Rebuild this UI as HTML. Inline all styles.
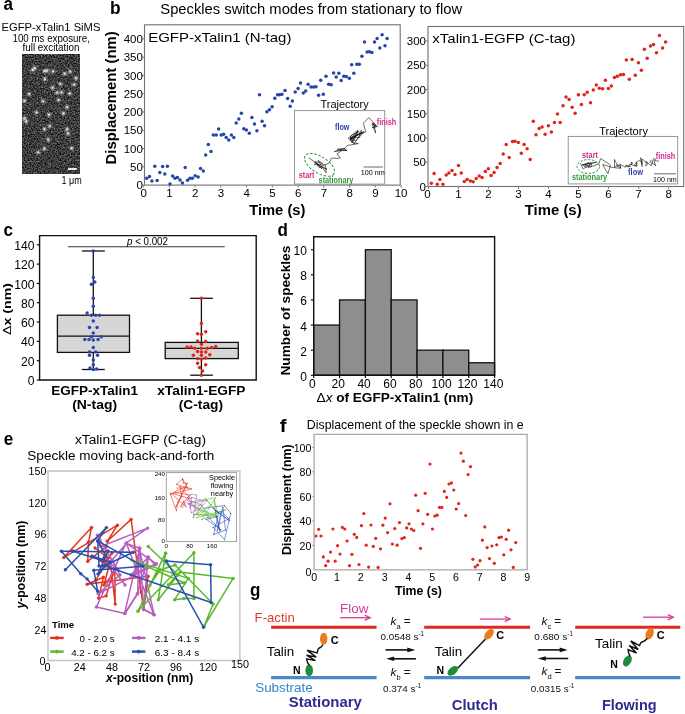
<!DOCTYPE html>
<html><head><meta charset="utf-8"><style>
html,body{margin:0;padding:0;background:#fff;}
svg{display:block;font-family:"Liberation Sans", sans-serif;will-change:transform;}
</style></head><body>
<svg width="685" height="714" viewBox="0 0 685 714" font-family='"Liberation Sans", sans-serif'>
<rect width="685" height="714" fill="#fff"/>
<text x="3.40" y="10.20" font-size="18.3" fill="#000" font-weight="700" textLength="9.5" lengthAdjust="spacingAndGlyphs">a</text>
<text x="51.00" y="30.80" font-size="11.2" fill="#000" text-anchor="middle" textLength="98.8" lengthAdjust="spacingAndGlyphs">EGFP-xTalin1 SiMS</text>
<text x="51.20" y="42.20" font-size="10.3" fill="#000" text-anchor="middle" textLength="77.4" lengthAdjust="spacingAndGlyphs">100 ms exposure,</text>
<text x="51.00" y="51.40" font-size="10.3" fill="#000" text-anchor="middle" textLength="57" lengthAdjust="spacingAndGlyphs">full excitation</text>
<defs><filter id="nz" x="0" y="0" width="1" height="1"><feTurbulence type="fractalNoise" baseFrequency="0.9" numOctaves="1" seed="3"/><feColorMatrix type="matrix" values="0 0 0 0 0  0 0 0 0 0  0 0 0 0 0  0 0 0 0 0"/></filter></defs>
<defs><filter id="nz2" x="0" y="0" width="100%" height="100%" filterUnits="objectBoundingBox" color-interpolation-filters="sRGB"><feTurbulence type="fractalNoise" baseFrequency="0.7" numOctaves="2" seed="7" result="t"/><feColorMatrix in="t" type="matrix" values="0.85 0 0 0 -0.19  0.85 0 0 0 -0.19  0.85 0 0 0 -0.19  0 0 0 0 1"/><feGaussianBlur stdDeviation="0.3"/></filter><filter id="bl" x="-50%" y="-50%" width="200%" height="200%"><feGaussianBlur stdDeviation="0.9"/></filter></defs>
<rect x="22.30" y="54.00" width="57.60" height="120.00" fill="#333" stroke="none" stroke-width="1"/>
<rect x="22.30" y="54.00" width="57.60" height="120.00" fill="#000" stroke="none" stroke-width="1" filter="url(#nz2)"/>
<g fill="#fff" filter="url(#bl)"><circle cx="34.9" cy="67.8" r="1.6"/><circle cx="32.7" cy="70.1" r="1.6"/><circle cx="44.4" cy="71.0" r="1.6"/><circle cx="47.1" cy="70.6" r="1.6"/><circle cx="53.0" cy="71.5" r="1.6"/><circle cx="44.9" cy="79.1" r="1.6"/><circle cx="60.3" cy="84.1" r="1.6"/><circle cx="52.6" cy="87.7" r="1.6"/><circle cx="74.3" cy="84.6" r="1.6"/><circle cx="76.1" cy="78.2" r="1.6"/><circle cx="70.2" cy="71.5" r="1.6"/><circle cx="64.8" cy="73.7" r="1.6"/><circle cx="57.1" cy="92.7" r="1.6"/><circle cx="61.6" cy="92.3" r="1.6"/><circle cx="69.8" cy="93.6" r="1.6"/><circle cx="58.5" cy="100.0" r="1.6"/><circle cx="43.1" cy="101.3" r="1.6"/><circle cx="24.5" cy="100.9" r="1.6"/><circle cx="67.1" cy="107.2" r="1.6"/><circle cx="29.0" cy="94.0" r="1.6"/><circle cx="36.7" cy="112.5" r="1.6"/><circle cx="49.0" cy="114.7" r="1.6"/><circle cx="63.4" cy="113.4" r="1.6"/><circle cx="26.3" cy="121.5" r="1.6"/><circle cx="49.9" cy="126.0" r="1.6"/><circle cx="44.4" cy="129.2" r="1.6"/><circle cx="67.1" cy="129.2" r="1.6"/><circle cx="68.0" cy="133.7" r="1.6"/><circle cx="48.1" cy="139.6" r="1.6"/><circle cx="44.4" cy="148.7" r="1.6"/><circle cx="38.1" cy="152.3" r="1.6"/><circle cx="71.6" cy="148.2" r="1.6"/><circle cx="24.5" cy="118.3" r="1.6"/></g>
<g fill="#fff" opacity="0.75"><circle cx="34.9" cy="67.8" r="0.9"/><circle cx="32.7" cy="70.1" r="0.9"/><circle cx="44.4" cy="71.0" r="0.9"/><circle cx="47.1" cy="70.6" r="0.9"/><circle cx="53.0" cy="71.5" r="0.9"/><circle cx="44.9" cy="79.1" r="0.9"/><circle cx="60.3" cy="84.1" r="0.9"/><circle cx="52.6" cy="87.7" r="0.9"/><circle cx="74.3" cy="84.6" r="0.9"/><circle cx="76.1" cy="78.2" r="0.9"/><circle cx="70.2" cy="71.5" r="0.9"/><circle cx="64.8" cy="73.7" r="0.9"/><circle cx="57.1" cy="92.7" r="0.9"/><circle cx="61.6" cy="92.3" r="0.9"/><circle cx="69.8" cy="93.6" r="0.9"/><circle cx="58.5" cy="100.0" r="0.9"/><circle cx="43.1" cy="101.3" r="0.9"/><circle cx="24.5" cy="100.9" r="0.9"/><circle cx="67.1" cy="107.2" r="0.9"/><circle cx="29.0" cy="94.0" r="0.9"/><circle cx="36.7" cy="112.5" r="0.9"/><circle cx="49.0" cy="114.7" r="0.9"/><circle cx="63.4" cy="113.4" r="0.9"/><circle cx="26.3" cy="121.5" r="0.9"/><circle cx="49.9" cy="126.0" r="0.9"/><circle cx="44.4" cy="129.2" r="0.9"/><circle cx="67.1" cy="129.2" r="0.9"/><circle cx="68.0" cy="133.7" r="0.9"/><circle cx="48.1" cy="139.6" r="0.9"/><circle cx="44.4" cy="148.7" r="0.9"/><circle cx="38.1" cy="152.3" r="0.9"/><circle cx="71.6" cy="148.2" r="0.9"/><circle cx="24.5" cy="118.3" r="0.9"/></g>
<rect x="68.00" y="168.10" width="8.80" height="1.80" fill="#fff" stroke="none" stroke-width="1"/>
<text x="61.50" y="184.10" font-size="10.5" fill="#000" textLength="20.2" lengthAdjust="spacingAndGlyphs">1 μm</text>
<text x="110.00" y="13.80" font-size="18.3" fill="#000" font-weight="700" textLength="10.6" lengthAdjust="spacingAndGlyphs">b</text>
<text x="160.30" y="13.80" font-size="13.8" fill="#000" textLength="301.8" lengthAdjust="spacingAndGlyphs">Speckles switch modes from stationary to flow</text>
<rect x="144.50" y="24.80" width="255.70" height="160.30" fill="none" stroke="#707070" stroke-width="1.1"/>
<line x1="142.00" y1="185.10" x2="144.50" y2="185.10" stroke="#808080" stroke-width="1"/>
<text x="142.90" y="189.20" font-size="11.5" fill="#000" text-anchor="end">0</text>
<line x1="142.00" y1="166.82" x2="144.50" y2="166.82" stroke="#808080" stroke-width="1"/>
<text x="142.90" y="170.92" font-size="11.5" fill="#000" text-anchor="end">50</text>
<line x1="142.00" y1="148.55" x2="144.50" y2="148.55" stroke="#808080" stroke-width="1"/>
<text x="142.90" y="152.65" font-size="11.5" fill="#000" text-anchor="end">100</text>
<line x1="142.00" y1="130.28" x2="144.50" y2="130.28" stroke="#808080" stroke-width="1"/>
<text x="142.90" y="134.38" font-size="11.5" fill="#000" text-anchor="end">150</text>
<line x1="142.00" y1="112.00" x2="144.50" y2="112.00" stroke="#808080" stroke-width="1"/>
<text x="142.90" y="116.10" font-size="11.5" fill="#000" text-anchor="end">200</text>
<line x1="142.00" y1="93.72" x2="144.50" y2="93.72" stroke="#808080" stroke-width="1"/>
<text x="142.90" y="97.82" font-size="11.5" fill="#000" text-anchor="end">250</text>
<line x1="142.00" y1="75.45" x2="144.50" y2="75.45" stroke="#808080" stroke-width="1"/>
<text x="142.90" y="79.55" font-size="11.5" fill="#000" text-anchor="end">300</text>
<line x1="142.00" y1="57.17" x2="144.50" y2="57.17" stroke="#808080" stroke-width="1"/>
<text x="142.90" y="61.27" font-size="11.5" fill="#000" text-anchor="end">350</text>
<line x1="142.00" y1="38.90" x2="144.50" y2="38.90" stroke="#808080" stroke-width="1"/>
<text x="142.90" y="43.00" font-size="11.5" fill="#000" text-anchor="end">400</text>
<line x1="143.60" y1="185.10" x2="143.60" y2="187.60" stroke="#808080" stroke-width="1"/>
<text x="143.60" y="197.00" font-size="11.5" fill="#000" text-anchor="middle">0</text>
<line x1="169.35" y1="185.10" x2="169.35" y2="187.60" stroke="#808080" stroke-width="1"/>
<text x="169.35" y="197.00" font-size="11.5" fill="#000" text-anchor="middle">1</text>
<line x1="195.10" y1="185.10" x2="195.10" y2="187.60" stroke="#808080" stroke-width="1"/>
<text x="195.10" y="197.00" font-size="11.5" fill="#000" text-anchor="middle">2</text>
<line x1="220.85" y1="185.10" x2="220.85" y2="187.60" stroke="#808080" stroke-width="1"/>
<text x="220.85" y="197.00" font-size="11.5" fill="#000" text-anchor="middle">3</text>
<line x1="246.60" y1="185.10" x2="246.60" y2="187.60" stroke="#808080" stroke-width="1"/>
<text x="246.60" y="197.00" font-size="11.5" fill="#000" text-anchor="middle">4</text>
<line x1="272.35" y1="185.10" x2="272.35" y2="187.60" stroke="#808080" stroke-width="1"/>
<text x="272.35" y="197.00" font-size="11.5" fill="#000" text-anchor="middle">5</text>
<line x1="298.10" y1="185.10" x2="298.10" y2="187.60" stroke="#808080" stroke-width="1"/>
<text x="298.10" y="197.00" font-size="11.5" fill="#000" text-anchor="middle">6</text>
<line x1="323.85" y1="185.10" x2="323.85" y2="187.60" stroke="#808080" stroke-width="1"/>
<text x="323.85" y="197.00" font-size="11.5" fill="#000" text-anchor="middle">7</text>
<line x1="349.60" y1="185.10" x2="349.60" y2="187.60" stroke="#808080" stroke-width="1"/>
<text x="349.60" y="197.00" font-size="11.5" fill="#000" text-anchor="middle">8</text>
<line x1="375.35" y1="185.10" x2="375.35" y2="187.60" stroke="#808080" stroke-width="1"/>
<text x="375.35" y="197.00" font-size="11.5" fill="#000" text-anchor="middle">9</text>
<line x1="401.10" y1="185.10" x2="401.10" y2="187.60" stroke="#808080" stroke-width="1"/>
<text x="401.10" y="197.00" font-size="11.5" fill="#000" text-anchor="middle">10</text>
<text x="115.60" y="97.90" font-size="14.7" fill="#000" font-weight="700" text-anchor="middle" textLength="133.2" lengthAdjust="spacingAndGlyphs" transform="rotate(-90 115.60 97.90)">Displacement (nm)</text>
<text x="277.30" y="214.90" font-size="14" fill="#000" font-weight="700" text-anchor="middle" textLength="56.3" lengthAdjust="spacingAndGlyphs">Time (s)</text>
<text x="148.20" y="41.90" font-size="13.4" fill="#000" textLength="143.2" lengthAdjust="spacingAndGlyphs">EGFP-xTalin1 (N-tag)</text>
<rect x="294.50" y="110.60" width="90.20" height="73.50" fill="#fff" stroke="#8a8a8a" stroke-width="0.9"/>
<text x="344.60" y="107.50" font-size="10.9" fill="#000" text-anchor="middle" textLength="48.2" lengthAdjust="spacingAndGlyphs">Trajectory</text>
<g fill="#2446a8"><circle cx="146.7" cy="178.3" r="1.75"/><circle cx="149.5" cy="176.4" r="1.75"/><circle cx="151.9" cy="181.0" r="1.75"/><circle cx="154.8" cy="166.2" r="1.75"/><circle cx="157.1" cy="180.5" r="1.75"/><circle cx="159.8" cy="172.4" r="1.75"/><circle cx="162.6" cy="166.4" r="1.75"/><circle cx="164.8" cy="174.0" r="1.75"/><circle cx="167.4" cy="166.2" r="1.75"/><circle cx="170.0" cy="184.0" r="1.75"/><circle cx="172.6" cy="176.0" r="1.75"/><circle cx="175.0" cy="178.3" r="1.75"/><circle cx="177.4" cy="177.6" r="1.75"/><circle cx="180.0" cy="180.0" r="1.75"/><circle cx="182.4" cy="182.9" r="1.75"/><circle cx="185.2" cy="167.6" r="1.75"/><circle cx="187.6" cy="180.2" r="1.75"/><circle cx="190.0" cy="178.3" r="1.75"/><circle cx="192.4" cy="178.3" r="1.75"/><circle cx="195.2" cy="175.7" r="1.75"/><circle cx="198.1" cy="177.1" r="1.75"/><circle cx="200.5" cy="168.6" r="1.75"/><circle cx="203.3" cy="171.0" r="1.75"/><circle cx="205.7" cy="155.0" r="1.75"/><circle cx="208.3" cy="144.5" r="1.75"/><circle cx="211.0" cy="151.4" r="1.75"/><circle cx="213.3" cy="135.0" r="1.75"/><circle cx="216.2" cy="135.0" r="1.75"/><circle cx="218.6" cy="129.0" r="1.75"/><circle cx="221.2" cy="135.0" r="1.75"/><circle cx="223.6" cy="134.3" r="1.75"/><circle cx="226.2" cy="137.4" r="1.75"/><circle cx="228.8" cy="140.0" r="1.75"/><circle cx="231.4" cy="135.0" r="1.75"/><circle cx="233.8" cy="137.6" r="1.75"/><circle cx="236.2" cy="122.9" r="1.75"/><circle cx="238.8" cy="119.0" r="1.75"/><circle cx="241.4" cy="113.3" r="1.75"/><circle cx="243.8" cy="128.8" r="1.75"/><circle cx="246.4" cy="130.0" r="1.75"/><circle cx="249.3" cy="133.3" r="1.75"/><circle cx="251.9" cy="117.6" r="1.75"/><circle cx="254.5" cy="124.0" r="1.75"/><circle cx="256.9" cy="130.7" r="1.75"/><circle cx="259.5" cy="94.8" r="1.75"/><circle cx="262.1" cy="121.2" r="1.75"/><circle cx="264.5" cy="125.7" r="1.75"/><circle cx="266.9" cy="111.7" r="1.75"/><circle cx="269.5" cy="109.8" r="1.75"/><circle cx="272.1" cy="106.7" r="1.75"/><circle cx="274.8" cy="98.3" r="1.75"/><circle cx="277.6" cy="94.8" r="1.75"/><circle cx="279.5" cy="94.8" r="1.75"/><circle cx="281.9" cy="94.3" r="1.75"/><circle cx="285.0" cy="90.5" r="1.75"/><circle cx="287.6" cy="98.6" r="1.75"/><circle cx="290.2" cy="106.2" r="1.75"/><circle cx="292.4" cy="101.0" r="1.75"/><circle cx="295.2" cy="91.9" r="1.75"/><circle cx="298.1" cy="88.6" r="1.75"/><circle cx="300.5" cy="82.9" r="1.75"/><circle cx="303.3" cy="93.1" r="1.75"/><circle cx="305.7" cy="91.0" r="1.75"/><circle cx="308.1" cy="84.3" r="1.75"/><circle cx="311.0" cy="87.1" r="1.75"/><circle cx="313.6" cy="87.1" r="1.75"/><circle cx="316.0" cy="86.7" r="1.75"/><circle cx="318.6" cy="95.2" r="1.75"/><circle cx="320.7" cy="80.2" r="1.75"/><circle cx="323.3" cy="94.3" r="1.75"/><circle cx="326.0" cy="76.2" r="1.75"/><circle cx="328.6" cy="84.3" r="1.75"/><circle cx="331.2" cy="84.8" r="1.75"/><circle cx="333.6" cy="72.9" r="1.75"/><circle cx="336.2" cy="77.1" r="1.75"/><circle cx="338.8" cy="73.3" r="1.75"/><circle cx="341.2" cy="80.5" r="1.75"/><circle cx="343.8" cy="76.2" r="1.75"/><circle cx="346.2" cy="76.4" r="1.75"/><circle cx="349.3" cy="78.3" r="1.75"/><circle cx="351.7" cy="64.8" r="1.75"/><circle cx="353.8" cy="73.3" r="1.75"/><circle cx="356.9" cy="64.3" r="1.75"/><circle cx="359.3" cy="64.3" r="1.75"/><circle cx="361.9" cy="56.2" r="1.75"/><circle cx="364.5" cy="42.1" r="1.75"/><circle cx="367.1" cy="52.1" r="1.75"/><circle cx="369.5" cy="51.7" r="1.75"/><circle cx="371.9" cy="52.6" r="1.75"/><circle cx="374.5" cy="42.1" r="1.75"/><circle cx="377.1" cy="38.6" r="1.75"/><circle cx="379.8" cy="48.1" r="1.75"/><circle cx="382.1" cy="34.8" r="1.75"/><circle cx="385.0" cy="45.7" r="1.75"/><circle cx="387.1" cy="38.6" r="1.75"/></g>
<polyline points="308.7,157.9 312.0,160.0 320.1,166.0 327.0,169.2 320.8,166.6 316.6,163.5 321.8,168.8 316.1,161.6 314.2,164.6 325.3,164.8 326.1,172.7 322.7,167.9 318.0,160.3 322.9,163.6 317.6,162.0 314.6,162.0 319.0,167.6 320.8,167.0 329.2,162.9 331.6,157.9 337.2,158.5 340.3,157.9 337.0,154.0 340.9,151.4 339.5,149.5 347.2,150.7 344.7,149.9 337.8,150.0 337.1,149.2 343.1,148.6 344.0,148.1 346.4,150.1 334.3,151.5 344.9,148.3 345.5,147.5 347.1,145.5 358.3,143.6 351.4,142.3 358.1,131.0 349.7,140.2 363.5,131.7 349.5,139.2 348.1,138.3 357.7,130.2 356.4,134.9 353.5,141.4 352.2,141.6 350.6,140.4 350.9,138.2 363.9,131.9 356.0,140.9 351.6,139.0 361.4,132.4 354.0,144.2 350.8,138.1 358.4,131.4 350.7,135.9 351.3,141.7 353.4,139.9 354.1,137.3 361.7,130.1 359.3,137.4 349.8,137.8 365.8,131.9 363.3,123.2 368.9,117.6 372.0,121.0 376.5,126.9 372.5,123.1 375.4,127.6 372.2,127.7 376.3,125.6 373.5,122.6 375.7,133.1 372.0,124.0 378.2,126.9" fill="none" stroke="#111" stroke-width="0.6" stroke-linejoin="round"/>
<ellipse cx="319.5" cy="164.8" rx="17" ry="8.2" transform="rotate(32 319.5 164.8)" fill="none" stroke="#2e9a3a" stroke-width="1" stroke-dasharray="2.6 1.6"/>
<text x="335.00" y="130.30" font-size="8.3" fill="#2f3fae" font-weight="700" textLength="14.4" lengthAdjust="spacingAndGlyphs">flow</text>
<text x="376.70" y="125.20" font-size="8.3" fill="#d42a8c" font-weight="700" textLength="19.6" lengthAdjust="spacingAndGlyphs">finish</text>
<text x="298.80" y="178.20" font-size="8.3" fill="#d42a8c" font-weight="700" textLength="15.6" lengthAdjust="spacingAndGlyphs">start</text>
<text x="318.60" y="182.50" font-size="8.3" fill="#2e9a3a" font-weight="700" textLength="34.8" lengthAdjust="spacingAndGlyphs">stationary</text>
<line x1="363.60" y1="167.00" x2="382.80" y2="167.00" stroke="#777" stroke-width="1.1"/>
<text x="360.70" y="175.30" font-size="7.6" fill="#000" textLength="24.0" lengthAdjust="spacingAndGlyphs">100 nm</text>
<rect x="428.00" y="26.50" width="255.70" height="160.00" fill="none" stroke="#707070" stroke-width="1.1"/>
<line x1="425.50" y1="186.50" x2="428.00" y2="186.50" stroke="#808080" stroke-width="1"/>
<text x="426.00" y="190.60" font-size="11.5" fill="#000" text-anchor="end">0</text>
<line x1="425.50" y1="162.25" x2="428.00" y2="162.25" stroke="#808080" stroke-width="1"/>
<text x="426.00" y="166.35" font-size="11.5" fill="#000" text-anchor="end">50</text>
<line x1="425.50" y1="138.00" x2="428.00" y2="138.00" stroke="#808080" stroke-width="1"/>
<text x="426.00" y="142.10" font-size="11.5" fill="#000" text-anchor="end">100</text>
<line x1="425.50" y1="113.75" x2="428.00" y2="113.75" stroke="#808080" stroke-width="1"/>
<text x="426.00" y="117.85" font-size="11.5" fill="#000" text-anchor="end">150</text>
<line x1="425.50" y1="89.50" x2="428.00" y2="89.50" stroke="#808080" stroke-width="1"/>
<text x="426.00" y="93.60" font-size="11.5" fill="#000" text-anchor="end">200</text>
<line x1="425.50" y1="65.25" x2="428.00" y2="65.25" stroke="#808080" stroke-width="1"/>
<text x="426.00" y="69.35" font-size="11.5" fill="#000" text-anchor="end">250</text>
<line x1="425.50" y1="41.00" x2="428.00" y2="41.00" stroke="#808080" stroke-width="1"/>
<text x="426.00" y="45.10" font-size="11.5" fill="#000" text-anchor="end">300</text>
<line x1="428.50" y1="186.50" x2="428.50" y2="189.00" stroke="#808080" stroke-width="1"/>
<text x="427.50" y="198.20" font-size="11.5" fill="#000" text-anchor="middle">0</text>
<line x1="458.51" y1="186.50" x2="458.51" y2="189.00" stroke="#808080" stroke-width="1"/>
<text x="458.51" y="198.20" font-size="11.5" fill="#000" text-anchor="middle">1</text>
<line x1="488.52" y1="186.50" x2="488.52" y2="189.00" stroke="#808080" stroke-width="1"/>
<text x="488.52" y="198.20" font-size="11.5" fill="#000" text-anchor="middle">2</text>
<line x1="518.53" y1="186.50" x2="518.53" y2="189.00" stroke="#808080" stroke-width="1"/>
<text x="518.53" y="198.20" font-size="11.5" fill="#000" text-anchor="middle">3</text>
<line x1="548.54" y1="186.50" x2="548.54" y2="189.00" stroke="#808080" stroke-width="1"/>
<text x="548.54" y="198.20" font-size="11.5" fill="#000" text-anchor="middle">4</text>
<line x1="578.55" y1="186.50" x2="578.55" y2="189.00" stroke="#808080" stroke-width="1"/>
<text x="578.55" y="198.20" font-size="11.5" fill="#000" text-anchor="middle">5</text>
<line x1="608.56" y1="186.50" x2="608.56" y2="189.00" stroke="#808080" stroke-width="1"/>
<text x="608.56" y="198.20" font-size="11.5" fill="#000" text-anchor="middle">6</text>
<line x1="638.57" y1="186.50" x2="638.57" y2="189.00" stroke="#808080" stroke-width="1"/>
<text x="638.57" y="198.20" font-size="11.5" fill="#000" text-anchor="middle">7</text>
<line x1="668.58" y1="186.50" x2="668.58" y2="189.00" stroke="#808080" stroke-width="1"/>
<text x="668.58" y="198.20" font-size="11.5" fill="#000" text-anchor="middle">8</text>
<text x="553.20" y="215.40" font-size="14" fill="#000" font-weight="700" text-anchor="middle" textLength="56.8" lengthAdjust="spacingAndGlyphs">Time (s)</text>
<text x="432.30" y="42.70" font-size="13.4" fill="#000" textLength="143.1" lengthAdjust="spacingAndGlyphs">xTalin1-EGFP (C-tag)</text>
<rect x="568.20" y="136.40" width="109.50" height="47.50" fill="#fff" stroke="#8a8a8a" stroke-width="0.9"/>
<text x="623.60" y="134.60" font-size="10.9" fill="#000" text-anchor="middle" textLength="48.9" lengthAdjust="spacingAndGlyphs">Trajectory</text>
<g fill="#e0261a"><circle cx="431.3" cy="183.2" r="1.75"/><circle cx="434.1" cy="173.6" r="1.75"/><circle cx="437.3" cy="184.2" r="1.75"/><circle cx="439.9" cy="179.4" r="1.75"/><circle cx="442.9" cy="184.2" r="1.75"/><circle cx="446.2" cy="175.1" r="1.75"/><circle cx="448.9" cy="172.9" r="1.75"/><circle cx="452.0" cy="170.6" r="1.75"/><circle cx="455.0" cy="174.6" r="1.75"/><circle cx="458.5" cy="165.6" r="1.75"/><circle cx="461.3" cy="173.1" r="1.75"/><circle cx="464.3" cy="181.5" r="1.75"/><circle cx="467.1" cy="179.4" r="1.75"/><circle cx="470.4" cy="180.9" r="1.75"/><circle cx="473.2" cy="181.7" r="1.75"/><circle cx="476.2" cy="178.4" r="1.75"/><circle cx="479.2" cy="175.9" r="1.75"/><circle cx="482.0" cy="177.4" r="1.75"/><circle cx="485.3" cy="171.4" r="1.75"/><circle cx="488.3" cy="168.8" r="1.75"/><circle cx="491.1" cy="175.4" r="1.75"/><circle cx="494.1" cy="172.4" r="1.75"/><circle cx="497.1" cy="167.6" r="1.75"/><circle cx="500.2" cy="163.5" r="1.75"/><circle cx="503.2" cy="154.0" r="1.75"/><circle cx="506.2" cy="144.6" r="1.75"/><circle cx="509.2" cy="157.5" r="1.75"/><circle cx="512.5" cy="141.6" r="1.75"/><circle cx="515.0" cy="141.3" r="1.75"/><circle cx="518.3" cy="142.6" r="1.75"/><circle cx="521.3" cy="153.2" r="1.75"/><circle cx="524.1" cy="144.6" r="1.75"/><circle cx="527.1" cy="148.7" r="1.75"/><circle cx="530.2" cy="159.5" r="1.75"/><circle cx="533.3" cy="121.3" r="1.75"/><circle cx="536.0" cy="134.7" r="1.75"/><circle cx="539.1" cy="128.4" r="1.75"/><circle cx="542.1" cy="127.1" r="1.75"/><circle cx="545.1" cy="134.2" r="1.75"/><circle cx="548.4" cy="125.8" r="1.75"/><circle cx="551.4" cy="132.1" r="1.75"/><circle cx="554.4" cy="122.6" r="1.75"/><circle cx="557.5" cy="114.0" r="1.75"/><circle cx="560.2" cy="122.6" r="1.75"/><circle cx="563.0" cy="105.7" r="1.75"/><circle cx="566.0" cy="96.9" r="1.75"/><circle cx="569.1" cy="99.4" r="1.75"/><circle cx="572.1" cy="107.2" r="1.75"/><circle cx="575.1" cy="113.2" r="1.75"/><circle cx="578.4" cy="94.8" r="1.75"/><circle cx="581.4" cy="104.4" r="1.75"/><circle cx="584.2" cy="94.8" r="1.75"/><circle cx="587.2" cy="92.3" r="1.75"/><circle cx="590.5" cy="102.7" r="1.75"/><circle cx="593.3" cy="90.1" r="1.75"/><circle cx="596.3" cy="85.0" r="1.75"/><circle cx="599.3" cy="88.3" r="1.75"/><circle cx="602.6" cy="88.8" r="1.75"/><circle cx="605.4" cy="80.2" r="1.75"/><circle cx="608.4" cy="88.5" r="1.75"/><circle cx="611.4" cy="86.0" r="1.75"/><circle cx="614.4" cy="77.5" r="1.75"/><circle cx="617.4" cy="76.2" r="1.75"/><circle cx="620.5" cy="74.7" r="1.75"/><circle cx="623.5" cy="74.4" r="1.75"/><circle cx="626.3" cy="60.1" r="1.75"/><circle cx="629.3" cy="79.2" r="1.75"/><circle cx="632.1" cy="59.6" r="1.75"/><circle cx="635.3" cy="75.2" r="1.75"/><circle cx="638.4" cy="62.8" r="1.75"/><circle cx="641.4" cy="70.2" r="1.75"/><circle cx="644.4" cy="49.2" r="1.75"/><circle cx="647.2" cy="58.3" r="1.75"/><circle cx="650.5" cy="46.0" r="1.75"/><circle cx="653.5" cy="44.4" r="1.75"/><circle cx="656.5" cy="52.8" r="1.75"/><circle cx="659.5" cy="35.6" r="1.75"/><circle cx="662.6" cy="48.0" r="1.75"/><circle cx="665.6" cy="41.9" r="1.75"/></g>
<polyline points="580.3,163.1 583.2,169.0 586.1,166.9 586.5,167.6 591.3,163.5 585.1,167.2 582.9,164.6 591.3,166.9 591.6,163.4 596.3,162.1 582.1,165.0 588.7,162.6 584.8,165.1 590.8,162.6 588.2,167.7 598.7,164.0 600.6,158.5 610.5,165.1 607.9,173.7 602.6,164.5 613.1,167.7 618.4,165.5 617.3,164.8 614.4,159.4 614.6,167.8 620.3,168.2 616.5,165.0 620.7,165.9 620.6,168.4 619.8,164.0 625.4,167.3 626.4,165.4 627.8,167.3 625.7,165.1 630.5,166.8 628.1,166.0 632.2,163.8 631.5,161.9 632.2,164.1 629.6,164.3 637.0,166.5 636.1,161.8 637.2,163.6 636.1,166.0 634.6,165.1 635.2,163.6 639.3,160.0 641.8,162.5 642.2,166.5 640.6,157.7 641.9,164.0 642.2,159.1 648.1,163.7 645.8,165.9 646.0,163.7 646.1,161.4 651.3,165.9 652.8,160.8 651.7,160.1 649.6,161.8 655.5,165.1 655.5,166.0 653.5,158.4 655.7,159.4 655.0,160.7 659.1,161.2" fill="none" stroke="#111" stroke-width="0.6" stroke-linejoin="round"/>
<ellipse cx="588.3" cy="166.5" rx="11.3" ry="6.9" fill="none" stroke="#2e9a3a" stroke-width="1" stroke-dasharray="2.4 1.5"/>
<text x="581.90" y="158.00" font-size="8.3" fill="#d42a8c" font-weight="700" textLength="16.1" lengthAdjust="spacingAndGlyphs">start</text>
<text x="655.80" y="158.70" font-size="8.3" fill="#d42a8c" font-weight="700" textLength="19.5" lengthAdjust="spacingAndGlyphs">finish</text>
<text x="571.90" y="180.20" font-size="8.3" fill="#2e9a3a" font-weight="700" textLength="35.2" lengthAdjust="spacingAndGlyphs">stationary</text>
<text x="628.10" y="174.70" font-size="8.3" fill="#2f3fae" font-weight="700" textLength="14.9" lengthAdjust="spacingAndGlyphs">flow</text>
<line x1="654.00" y1="173.80" x2="675.90" y2="173.80" stroke="#777" stroke-width="1.1"/>
<text x="653.00" y="182.00" font-size="7.6" fill="#000" textLength="23.8" lengthAdjust="spacingAndGlyphs">100 nm</text>
<text x="3.60" y="235.80" font-size="18.3" fill="#000" font-weight="700" textLength="9.5" lengthAdjust="spacingAndGlyphs">c</text>
<rect x="57.40" y="315.20" width="72.10" height="37.20" fill="#d6d6d6" stroke="#111" stroke-width="1.3"/>
<line x1="57.40" y1="336.20" x2="129.50" y2="336.20" stroke="#111" stroke-width="1.3"/>
<line x1="93.30" y1="251.00" x2="93.30" y2="315.20" stroke="#111" stroke-width="1.3"/>
<line x1="93.30" y1="352.40" x2="93.30" y2="369.50" stroke="#111" stroke-width="1.3"/>
<line x1="81.90" y1="251.00" x2="104.80" y2="251.00" stroke="#111" stroke-width="1.3"/>
<line x1="81.90" y1="369.50" x2="104.80" y2="369.50" stroke="#111" stroke-width="1.3"/>
<rect x="165.20" y="342.40" width="73.10" height="16.20" fill="#d6d6d6" stroke="#111" stroke-width="1.3"/>
<line x1="165.20" y1="348.30" x2="238.30" y2="348.30" stroke="#111" stroke-width="1.3"/>
<line x1="201.40" y1="298.30" x2="201.40" y2="342.40" stroke="#111" stroke-width="1.3"/>
<line x1="201.40" y1="358.60" x2="201.40" y2="375.20" stroke="#111" stroke-width="1.3"/>
<line x1="190.20" y1="298.30" x2="212.90" y2="298.30" stroke="#111" stroke-width="1.3"/>
<line x1="190.20" y1="375.20" x2="212.90" y2="375.20" stroke="#111" stroke-width="1.3"/>
<line x1="68.10" y1="246.80" x2="224.80" y2="246.80" stroke="#333" stroke-width="1.1"/>
<text x="127.00" y="244.80" font-size="10.5" fill="#000" textLength="41.0" lengthAdjust="spacingAndGlyphs"><tspan font-style="italic">p</tspan> &lt; 0.002</text>
<g fill="#2e45b0"><circle cx="93.3" cy="251.0" r="1.75"/><circle cx="93.3" cy="277.6" r="1.75"/><circle cx="94.8" cy="281.9" r="1.75"/><circle cx="91.4" cy="284.3" r="1.75"/><circle cx="93.3" cy="298.3" r="1.75"/><circle cx="93.3" cy="306.2" r="1.75"/><circle cx="87.1" cy="312.9" r="1.75"/><circle cx="91.4" cy="315.2" r="1.75"/><circle cx="95.7" cy="315.2" r="1.75"/><circle cx="99.5" cy="315.2" r="1.75"/><circle cx="93.3" cy="321.0" r="1.75"/><circle cx="89.5" cy="327.6" r="1.75"/><circle cx="97.1" cy="327.6" r="1.75"/><circle cx="93.3" cy="332.9" r="1.75"/><circle cx="91.4" cy="336.7" r="1.75"/><circle cx="101.4" cy="336.7" r="1.75"/><circle cx="84.8" cy="339.5" r="1.75"/><circle cx="89.0" cy="339.5" r="1.75"/><circle cx="93.3" cy="340.0" r="1.75"/><circle cx="98.1" cy="339.5" r="1.75"/><circle cx="93.3" cy="347.6" r="1.75"/><circle cx="89.5" cy="351.9" r="1.75"/><circle cx="95.7" cy="351.9" r="1.75"/><circle cx="89.5" cy="355.2" r="1.75"/><circle cx="97.6" cy="355.2" r="1.75"/><circle cx="93.3" cy="360.0" r="1.75"/><circle cx="93.3" cy="364.8" r="1.75"/><circle cx="90.0" cy="368.1" r="1.75"/><circle cx="96.7" cy="369.0" r="1.75"/><circle cx="93.3" cy="369.5" r="1.75"/></g>
<g fill="#e0261a"><circle cx="201.4" cy="298.3" r="1.75"/><circle cx="201.4" cy="323.6" r="1.75"/><circle cx="197.6" cy="333.8" r="1.75"/><circle cx="201.4" cy="334.3" r="1.75"/><circle cx="205.7" cy="331.7" r="1.75"/><circle cx="197.6" cy="341.0" r="1.75"/><circle cx="205.7" cy="341.4" r="1.75"/><circle cx="201.4" cy="344.3" r="1.75"/><circle cx="187.1" cy="347.1" r="1.75"/><circle cx="191.0" cy="347.1" r="1.75"/><circle cx="194.8" cy="348.3" r="1.75"/><circle cx="201.4" cy="348.3" r="1.75"/><circle cx="207.4" cy="348.3" r="1.75"/><circle cx="211.7" cy="347.6" r="1.75"/><circle cx="215.7" cy="346.4" r="1.75"/><circle cx="197.6" cy="351.4" r="1.75"/><circle cx="201.4" cy="352.1" r="1.75"/><circle cx="205.7" cy="352.1" r="1.75"/><circle cx="193.3" cy="355.2" r="1.75"/><circle cx="201.4" cy="355.2" r="1.75"/><circle cx="209.8" cy="354.8" r="1.75"/><circle cx="197.6" cy="358.8" r="1.75"/><circle cx="201.4" cy="359.3" r="1.75"/><circle cx="205.7" cy="358.1" r="1.75"/><circle cx="197.6" cy="363.3" r="1.75"/><circle cx="205.7" cy="364.8" r="1.75"/><circle cx="199.5" cy="367.6" r="1.75"/><circle cx="202.6" cy="371.0" r="1.75"/><circle cx="201.4" cy="375.2" r="1.75"/></g>
<path d="M39.60 235.60 H256.20 V380.00 H39.60 Z" fill="none" stroke="#111" stroke-width="1.4"/>
<line x1="36.80" y1="380.00" x2="39.60" y2="380.00" stroke="#111" stroke-width="1.2"/>
<text x="34.60" y="385.10" font-size="12" fill="#000" text-anchor="end" textLength="6.75" lengthAdjust="spacingAndGlyphs">0</text>
<line x1="36.80" y1="360.69" x2="39.60" y2="360.69" stroke="#111" stroke-width="1.2"/>
<text x="34.60" y="365.79" font-size="12" fill="#000" text-anchor="end" textLength="13.5" lengthAdjust="spacingAndGlyphs">20</text>
<line x1="36.80" y1="341.37" x2="39.60" y2="341.37" stroke="#111" stroke-width="1.2"/>
<text x="34.60" y="346.47" font-size="12" fill="#000" text-anchor="end" textLength="13.5" lengthAdjust="spacingAndGlyphs">40</text>
<line x1="36.80" y1="322.06" x2="39.60" y2="322.06" stroke="#111" stroke-width="1.2"/>
<text x="34.60" y="327.16" font-size="12" fill="#000" text-anchor="end" textLength="13.5" lengthAdjust="spacingAndGlyphs">60</text>
<line x1="36.80" y1="302.74" x2="39.60" y2="302.74" stroke="#111" stroke-width="1.2"/>
<text x="34.60" y="307.84" font-size="12" fill="#000" text-anchor="end" textLength="13.5" lengthAdjust="spacingAndGlyphs">80</text>
<line x1="36.80" y1="283.43" x2="39.60" y2="283.43" stroke="#111" stroke-width="1.2"/>
<text x="34.60" y="288.53" font-size="12" fill="#000" text-anchor="end" textLength="20.25" lengthAdjust="spacingAndGlyphs">100</text>
<line x1="36.80" y1="264.12" x2="39.60" y2="264.12" stroke="#111" stroke-width="1.2"/>
<text x="34.60" y="269.22" font-size="12" fill="#000" text-anchor="end" textLength="20.25" lengthAdjust="spacingAndGlyphs">120</text>
<line x1="36.80" y1="244.80" x2="39.60" y2="244.80" stroke="#111" stroke-width="1.2"/>
<text x="34.60" y="249.90" font-size="12" fill="#000" text-anchor="end" textLength="20.25" lengthAdjust="spacingAndGlyphs">140</text>
<text x="10.60" y="309.00" font-size="11.5" fill="#000" font-weight="700" text-anchor="middle" textLength="52.1" lengthAdjust="spacingAndGlyphs" transform="rotate(-90 10.60 309.00)"><tspan font-weight="400">Δ</tspan>x  (nm)</text>
<text x="94.60" y="394.90" font-size="13.6" fill="#000" font-weight="700" text-anchor="middle" textLength="86.8" lengthAdjust="spacingAndGlyphs">EGFP-xTalin1</text>
<text x="94.60" y="409.30" font-size="13.6" fill="#000" font-weight="700" text-anchor="middle" textLength="44.9" lengthAdjust="spacingAndGlyphs">(N-tag)</text>
<text x="201.40" y="394.90" font-size="13.6" fill="#000" font-weight="700" text-anchor="middle" textLength="88.3" lengthAdjust="spacingAndGlyphs">xTalin1-EGFP</text>
<text x="200.90" y="409.30" font-size="13.6" fill="#000" font-weight="700" text-anchor="middle" textLength="44.3" lengthAdjust="spacingAndGlyphs">(C-tag)</text>
<text x="277.60" y="236.00" font-size="18.5" fill="#000" font-weight="700" textLength="10.4" lengthAdjust="spacingAndGlyphs">d</text>
<rect x="313.70" y="325.06" width="25.84" height="50.24" fill="#8e8e8e" stroke="#111" stroke-width="1.3"/>
<rect x="339.54" y="299.94" width="25.84" height="75.36" fill="#8e8e8e" stroke="#111" stroke-width="1.3"/>
<rect x="365.39" y="249.70" width="25.84" height="125.60" fill="#8e8e8e" stroke="#111" stroke-width="1.3"/>
<rect x="391.23" y="299.94" width="25.84" height="75.36" fill="#8e8e8e" stroke="#111" stroke-width="1.3"/>
<rect x="417.07" y="350.18" width="25.84" height="25.12" fill="#8e8e8e" stroke="#111" stroke-width="1.3"/>
<rect x="442.91" y="350.18" width="25.84" height="25.12" fill="#8e8e8e" stroke="#111" stroke-width="1.3"/>
<rect x="468.76" y="362.74" width="25.84" height="12.56" fill="#8e8e8e" stroke="#111" stroke-width="1.3"/>
<path d="M313.70 236.70 H494.60 V375.30 H313.70 Z" fill="none" stroke="#111" stroke-width="1.4"/>
<line x1="310.90" y1="375.30" x2="313.70" y2="375.30" stroke="#111" stroke-width="1.2"/>
<text x="306.90" y="380.80" font-size="12" fill="#000" text-anchor="end">0</text>
<line x1="310.90" y1="350.18" x2="313.70" y2="350.18" stroke="#111" stroke-width="1.2"/>
<text x="306.90" y="355.68" font-size="12" fill="#000" text-anchor="end">2</text>
<line x1="310.90" y1="325.06" x2="313.70" y2="325.06" stroke="#111" stroke-width="1.2"/>
<text x="306.90" y="330.56" font-size="12" fill="#000" text-anchor="end">4</text>
<line x1="310.90" y1="299.94" x2="313.70" y2="299.94" stroke="#111" stroke-width="1.2"/>
<text x="306.90" y="305.44" font-size="12" fill="#000" text-anchor="end">6</text>
<line x1="310.90" y1="274.82" x2="313.70" y2="274.82" stroke="#111" stroke-width="1.2"/>
<text x="306.90" y="280.32" font-size="12" fill="#000" text-anchor="end">8</text>
<line x1="310.90" y1="249.70" x2="313.70" y2="249.70" stroke="#111" stroke-width="1.2"/>
<text x="306.90" y="255.20" font-size="12" fill="#000" text-anchor="end">10</text>
<line x1="313.70" y1="375.30" x2="313.70" y2="378.10" stroke="#111" stroke-width="1.2"/>
<text x="312.40" y="388.40" font-size="12" fill="#000" text-anchor="middle">0</text>
<line x1="339.54" y1="375.30" x2="339.54" y2="378.10" stroke="#111" stroke-width="1.2"/>
<text x="338.24" y="388.40" font-size="12" fill="#000" text-anchor="middle">20</text>
<line x1="365.39" y1="375.30" x2="365.39" y2="378.10" stroke="#111" stroke-width="1.2"/>
<text x="364.09" y="388.40" font-size="12" fill="#000" text-anchor="middle">40</text>
<line x1="391.23" y1="375.30" x2="391.23" y2="378.10" stroke="#111" stroke-width="1.2"/>
<text x="389.93" y="388.40" font-size="12" fill="#000" text-anchor="middle">60</text>
<line x1="417.07" y1="375.30" x2="417.07" y2="378.10" stroke="#111" stroke-width="1.2"/>
<text x="415.77" y="388.40" font-size="12" fill="#000" text-anchor="middle">80</text>
<line x1="442.91" y1="375.30" x2="442.91" y2="378.10" stroke="#111" stroke-width="1.2"/>
<text x="441.61" y="388.40" font-size="12" fill="#000" text-anchor="middle">100</text>
<line x1="468.76" y1="375.30" x2="468.76" y2="378.10" stroke="#111" stroke-width="1.2"/>
<text x="467.46" y="388.40" font-size="12" fill="#000" text-anchor="middle">120</text>
<line x1="494.60" y1="375.30" x2="494.60" y2="378.10" stroke="#111" stroke-width="1.2"/>
<text x="493.30" y="388.40" font-size="12" fill="#000" text-anchor="middle">140</text>
<text x="290.00" y="310.60" font-size="13.6" fill="#000" font-weight="700" text-anchor="middle" textLength="129.8" lengthAdjust="spacingAndGlyphs" transform="rotate(-90 290.00 310.60)">Number of speckles</text>
<text x="316.60" y="402.10" font-size="13.0" fill="#000" font-weight="700" textLength="156.6" lengthAdjust="spacingAndGlyphs"><tspan font-weight="400">Δ</tspan><tspan font-weight="400" font-style="italic">x</tspan> of EGFP-xTalin1 (nm)</text>
<text x="3.80" y="444.60" font-size="18.3" fill="#000" font-weight="700" textLength="9.5" lengthAdjust="spacingAndGlyphs">e</text>
<text x="74.90" y="444.10" font-size="13.6" fill="#000" textLength="131.1" lengthAdjust="spacingAndGlyphs">xTalin1-EGFP (C-tag)</text>
<text x="27.30" y="460.10" font-size="13.6" fill="#000" textLength="186.9" lengthAdjust="spacingAndGlyphs">Speckle moving back-and-forth</text>
<path d="M48.0 471.0 H239.9 V660.5 H48.0 Z" fill="none" stroke="#c4c4c4" stroke-width="1.4"/>
<text x="46.30" y="475.20" font-size="10.6" fill="#000" text-anchor="end">150</text>
<line x1="46.30" y1="471.40" x2="47.50" y2="471.40" stroke="#c4c4c4" stroke-width="1"/>
<text x="46.30" y="506.90" font-size="10.6" fill="#000" text-anchor="end">120</text>
<line x1="46.30" y1="503.10" x2="47.50" y2="503.10" stroke="#c4c4c4" stroke-width="1"/>
<text x="46.30" y="538.40" font-size="10.6" fill="#000" text-anchor="end">96</text>
<line x1="46.30" y1="534.60" x2="47.50" y2="534.60" stroke="#c4c4c4" stroke-width="1"/>
<text x="46.30" y="570.20" font-size="10.6" fill="#000" text-anchor="end">72</text>
<line x1="46.30" y1="566.40" x2="47.50" y2="566.40" stroke="#c4c4c4" stroke-width="1"/>
<text x="46.30" y="602.10" font-size="10.6" fill="#000" text-anchor="end">48</text>
<line x1="46.30" y1="598.30" x2="47.50" y2="598.30" stroke="#c4c4c4" stroke-width="1"/>
<text x="46.30" y="633.90" font-size="10.6" fill="#000" text-anchor="end">24</text>
<line x1="46.30" y1="630.10" x2="47.50" y2="630.10" stroke="#c4c4c4" stroke-width="1"/>
<text x="45.40" y="665.10" font-size="10.8" fill="#000" text-anchor="end">0</text>
<text x="47.40" y="670.60" font-size="10.8" fill="#000" text-anchor="middle">0</text>
<text x="79.80" y="670.60" font-size="10.8" fill="#000" text-anchor="middle">24</text>
<text x="112.10" y="670.60" font-size="10.8" fill="#000" text-anchor="middle">48</text>
<text x="143.90" y="670.60" font-size="10.8" fill="#000" text-anchor="middle">72</text>
<text x="176.00" y="670.60" font-size="10.8" fill="#000" text-anchor="middle">96</text>
<text x="207.90" y="670.60" font-size="10.8" fill="#000" text-anchor="middle">120</text>
<text x="240.00" y="668.10" font-size="10.8" fill="#000" text-anchor="middle">150</text>
<text x="24.60" y="564.60" font-size="12.4" fill="#000" font-weight="700" text-anchor="middle" textLength="87.7" lengthAdjust="spacingAndGlyphs" transform="rotate(-90 24.60 564.60)"><tspan font-style="italic">y</tspan>-position (nm)</text>
<text x="105.90" y="682.30" font-size="12.4" fill="#000" font-weight="700" textLength="87.4" lengthAdjust="spacingAndGlyphs"><tspan font-style="italic">x</tspan>-position (nm)</text>
<polyline points="91.5,527.6 63.7,557.6 117.4,525.2 107.3,541.3 131.1,519.4 141.1,592.1 143.7,609.6 148.1,576.3 87.1,584.2 103.4,577.2 98.7,598.2 106.1,595.9 114.8,567.6 115.2,604.0 110.4,562.0 102.6,561.4 106.1,546.5 87.7,561.4 88.5,542.2 91.5,527.6" fill="none" stroke="#e5331f" stroke-width="1.5" stroke-linejoin="round"/>
<g fill="#e5331f"><circle cx="91.5" cy="527.6" r="1.7"/><circle cx="63.7" cy="557.6" r="1.7"/><circle cx="117.4" cy="525.2" r="1.7"/><circle cx="107.3" cy="541.3" r="1.7"/><circle cx="131.1" cy="519.4" r="1.7"/><circle cx="141.1" cy="592.1" r="1.7"/><circle cx="143.7" cy="609.6" r="1.7"/><circle cx="148.1" cy="576.3" r="1.7"/><circle cx="87.1" cy="584.2" r="1.7"/><circle cx="103.4" cy="577.2" r="1.7"/><circle cx="98.7" cy="598.2" r="1.7"/><circle cx="106.1" cy="595.9" r="1.7"/><circle cx="114.8" cy="567.6" r="1.7"/><circle cx="115.2" cy="604.0" r="1.7"/><circle cx="110.4" cy="562.0" r="1.7"/><circle cx="102.6" cy="561.4" r="1.7"/><circle cx="106.1" cy="546.5" r="1.7"/><circle cx="87.7" cy="561.4" r="1.7"/><circle cx="88.5" cy="542.2" r="1.7"/><circle cx="91.5" cy="527.6" r="1.7"/></g>
<polyline points="102.6,561.4 109.0,566.0 104.0,585.0 112.0,575.0 114.8,567.6" fill="none" stroke="#e5331f" stroke-width="1.5" stroke-linejoin="round"/>
<g fill="#e5331f"><circle cx="102.6" cy="561.4" r="1.7"/><circle cx="109.0" cy="566.0" r="1.7"/><circle cx="104.0" cy="585.0" r="1.7"/><circle cx="112.0" cy="575.0" r="1.7"/><circle cx="114.8" cy="567.6" r="1.7"/></g>
<polyline points="95.0,548.0 108.0,558.0 100.0,572.0 112.0,553.0 104.0,566.0 96.0,580.0" fill="none" stroke="#e5331f" stroke-width="1.5" stroke-linejoin="round"/>
<g fill="#e5331f"><circle cx="95.0" cy="548.0" r="1.7"/><circle cx="108.0" cy="558.0" r="1.7"/><circle cx="100.0" cy="572.0" r="1.7"/><circle cx="112.0" cy="553.0" r="1.7"/><circle cx="104.0" cy="566.0" r="1.7"/><circle cx="96.0" cy="580.0" r="1.7"/></g>
<polyline points="97.3,535.1 100.8,546.5 147.6,528.1 126.2,543.0 96.4,607.0 125.0,613.5 137.6,593.8 139.3,548.3 154.2,614.9 143.7,609.6 148.1,557.0 155.1,564.9 98.2,593.8 120.0,575.0 112.0,560.0 126.4,543.4 139.7,548.3 134.9,574.5" fill="none" stroke="#b65fc0" stroke-width="1.5" stroke-linejoin="round"/>
<g fill="#b65fc0"><circle cx="97.3" cy="535.1" r="1.7"/><circle cx="100.8" cy="546.5" r="1.7"/><circle cx="147.6" cy="528.1" r="1.7"/><circle cx="126.2" cy="543.0" r="1.7"/><circle cx="96.4" cy="607.0" r="1.7"/><circle cx="125.0" cy="613.5" r="1.7"/><circle cx="137.6" cy="593.8" r="1.7"/><circle cx="139.3" cy="548.3" r="1.7"/><circle cx="154.2" cy="614.9" r="1.7"/><circle cx="143.7" cy="609.6" r="1.7"/><circle cx="148.1" cy="557.0" r="1.7"/><circle cx="155.1" cy="564.9" r="1.7"/><circle cx="98.2" cy="593.8" r="1.7"/><circle cx="120.0" cy="575.0" r="1.7"/><circle cx="112.0" cy="560.0" r="1.7"/><circle cx="126.4" cy="543.4" r="1.7"/><circle cx="139.7" cy="548.3" r="1.7"/><circle cx="134.9" cy="574.5" r="1.7"/></g>
<polyline points="100.0,540.0 118.0,570.0 105.0,558.0 125.0,585.0" fill="none" stroke="#b65fc0" stroke-width="1.5" stroke-linejoin="round"/>
<g fill="#b65fc0"><circle cx="100.0" cy="540.0" r="1.7"/><circle cx="118.0" cy="570.0" r="1.7"/><circle cx="105.0" cy="558.0" r="1.7"/><circle cx="125.0" cy="585.0" r="1.7"/></g>
<polyline points="126.4,543.4 153.8,614.5 143.7,609.4 139.7,548.3 124.6,613.4 137.3,593.9 148.3,557.4 131.0,574.7 156.5,563.8 126.4,543.4" fill="none" stroke="#b65fc0" stroke-width="1.5" stroke-linejoin="round"/>
<g fill="#b65fc0"><circle cx="126.4" cy="543.4" r="1.7"/><circle cx="153.8" cy="614.5" r="1.7"/><circle cx="143.7" cy="609.4" r="1.7"/><circle cx="139.7" cy="548.3" r="1.7"/><circle cx="124.6" cy="613.4" r="1.7"/><circle cx="137.3" cy="593.9" r="1.7"/><circle cx="148.3" cy="557.4" r="1.7"/><circle cx="131.0" cy="574.7" r="1.7"/><circle cx="156.5" cy="563.8" r="1.7"/><circle cx="126.4" cy="543.4" r="1.7"/></g>
<polyline points="148.3,546.5 178.0,575.0 158.3,599.7 165.6,553.2 137.9,611.2 193.9,552.8 193.9,598.5 183.9,598.5 174.7,599.7 188.4,578.4 131.9,560.1 184.8,583.0 168.4,584.8 180.0,572.0 233.1,578.4 204.2,626.0 213.1,604.0 175.0,565.0 160.0,570.0 150.0,585.0 165.6,553.2" fill="none" stroke="#5ab82c" stroke-width="1.5" stroke-linejoin="round"/>
<g fill="#5ab82c"><circle cx="148.3" cy="546.5" r="1.7"/><circle cx="178.0" cy="575.0" r="1.7"/><circle cx="158.3" cy="599.7" r="1.7"/><circle cx="165.6" cy="553.2" r="1.7"/><circle cx="137.9" cy="611.2" r="1.7"/><circle cx="193.9" cy="552.8" r="1.7"/><circle cx="193.9" cy="598.5" r="1.7"/><circle cx="183.9" cy="598.5" r="1.7"/><circle cx="174.7" cy="599.7" r="1.7"/><circle cx="188.4" cy="578.4" r="1.7"/><circle cx="131.9" cy="560.1" r="1.7"/><circle cx="184.8" cy="583.0" r="1.7"/><circle cx="168.4" cy="584.8" r="1.7"/><circle cx="180.0" cy="572.0" r="1.7"/><circle cx="233.1" cy="578.4" r="1.7"/><circle cx="204.2" cy="626.0" r="1.7"/><circle cx="213.1" cy="604.0" r="1.7"/><circle cx="175.0" cy="565.0" r="1.7"/><circle cx="160.0" cy="570.0" r="1.7"/><circle cx="150.0" cy="585.0" r="1.7"/><circle cx="165.6" cy="553.2" r="1.7"/></g>
<polyline points="65.4,569.7 106.4,527.6 97.7,540.9 142.9,566.2 93.8,570.2 97.7,591.2 87.1,579.0 80.7,573.7 61.4,551.3 73.1,551.3 133.2,552.3 104.3,565.8 211.1,602.5 210.6,564.7 166.5,561.0 203.5,627.2" fill="none" stroke="#2750b0" stroke-width="1.5" stroke-linejoin="round"/>
<g fill="#2750b0"><circle cx="65.4" cy="569.7" r="1.7"/><circle cx="106.4" cy="527.6" r="1.7"/><circle cx="97.7" cy="540.9" r="1.7"/><circle cx="142.9" cy="566.2" r="1.7"/><circle cx="93.8" cy="570.2" r="1.7"/><circle cx="97.7" cy="591.2" r="1.7"/><circle cx="87.1" cy="579.0" r="1.7"/><circle cx="80.7" cy="573.7" r="1.7"/><circle cx="61.4" cy="551.3" r="1.7"/><circle cx="73.1" cy="551.3" r="1.7"/><circle cx="133.2" cy="552.3" r="1.7"/><circle cx="104.3" cy="565.8" r="1.7"/><circle cx="211.1" cy="602.5" r="1.7"/><circle cx="210.6" cy="564.7" r="1.7"/><circle cx="166.5" cy="561.0" r="1.7"/><circle cx="203.5" cy="627.2" r="1.7"/></g>
<polyline points="73.1,551.3 100.5,560.0 106.0,556.0 97.7,540.9 99.0,566.0 104.3,565.8" fill="none" stroke="#2750b0" stroke-width="1.5" stroke-linejoin="round"/>
<g fill="#2750b0"><circle cx="73.1" cy="551.3" r="1.7"/><circle cx="100.5" cy="560.0" r="1.7"/><circle cx="106.0" cy="556.0" r="1.7"/><circle cx="97.7" cy="540.9" r="1.7"/><circle cx="99.0" cy="566.0" r="1.7"/><circle cx="104.3" cy="565.8" r="1.7"/></g>
<polyline points="92.0,556.0 110.0,562.0 98.0,574.0 108.0,551.0" fill="none" stroke="#2750b0" stroke-width="1.5" stroke-linejoin="round"/>
<g fill="#2750b0"><circle cx="92.0" cy="556.0" r="1.7"/><circle cx="110.0" cy="562.0" r="1.7"/><circle cx="98.0" cy="574.0" r="1.7"/><circle cx="108.0" cy="551.0" r="1.7"/></g>
<rect x="166.30" y="472.60" width="70.20" height="69.00" fill="#fff" stroke="#9a9a9a" stroke-width="0.9"/>
<text x="165.00" y="476.20" font-size="6.2" fill="#000" text-anchor="end">240</text>
<text x="165.00" y="499.50" font-size="6.2" fill="#000" text-anchor="end">160</text>
<text x="165.00" y="522.30" font-size="6.2" fill="#000" text-anchor="end">80</text>
<text x="165.00" y="543.00" font-size="6.2" fill="#000" text-anchor="end">0</text>
<text x="166.20" y="548.30" font-size="6.2" fill="#000" text-anchor="middle">0</text>
<text x="189.60" y="548.30" font-size="6.2" fill="#000" text-anchor="middle">80</text>
<text x="212.00" y="548.30" font-size="6.2" fill="#000" text-anchor="middle">160</text>
<text x="222.00" y="479.50" font-size="7.3" fill="#000" text-anchor="middle">Speckle</text>
<text x="222.00" y="487.90" font-size="7.3" fill="#000" text-anchor="middle">flowing</text>
<text x="222.00" y="496.20" font-size="7.3" fill="#000" text-anchor="middle">nearby</text>
<polyline points="182.6,478.9 176.4,484.5 191.3,488.9 170.3,494.2 176.4,510.8 178.2,502.0 186.1,486.3 173.8,492.4 189.6,495.0 180.8,506.4 183.5,501.4 186.0,506.7 170.6,493.1 190.4,498.6 180.1,486.6 181.8,496.4 176.0,506.6 186.6,484.0 187.3,483.4 183.4,483.0 182.6,478.9 187.8,488.0 177.3,488.0" fill="none" stroke="#e5331f" stroke-width="0.6" stroke-linejoin="round"/>
<g fill="#e5331f"><circle cx="182.6" cy="478.9" r="0.55"/><circle cx="176.4" cy="484.5" r="0.55"/><circle cx="191.3" cy="488.9" r="0.55"/><circle cx="170.3" cy="494.2" r="0.55"/><circle cx="176.4" cy="510.8" r="0.55"/><circle cx="178.2" cy="502.0" r="0.55"/><circle cx="186.1" cy="486.3" r="0.55"/><circle cx="173.8" cy="492.4" r="0.55"/><circle cx="189.6" cy="495.0" r="0.55"/><circle cx="180.8" cy="506.4" r="0.55"/><circle cx="183.5" cy="501.4" r="0.55"/><circle cx="186.0" cy="506.7" r="0.55"/><circle cx="170.6" cy="493.1" r="0.55"/><circle cx="190.4" cy="498.6" r="0.55"/><circle cx="180.1" cy="486.6" r="0.55"/><circle cx="181.8" cy="496.4" r="0.55"/><circle cx="176.0" cy="506.6" r="0.55"/><circle cx="186.6" cy="484.0" r="0.55"/><circle cx="187.3" cy="483.4" r="0.55"/><circle cx="183.4" cy="483.0" r="0.55"/><circle cx="182.6" cy="478.9" r="0.55"/><circle cx="187.8" cy="488.0" r="0.55"/><circle cx="177.3" cy="488.0" r="0.55"/></g>
<polyline points="182.6,507.3 191.3,494.2 196.6,495.0 193.1,517.8 207.1,500.3 187.8,503.8 200.1,509.1 191.3,512.6 188.2,498.6 195.7,509.9 203.8,500.6 191.7,497.4 190.3,508.1 191.1,500.9 202.1,505.1 190.6,505.1" fill="none" stroke="#b65fc0" stroke-width="0.6" stroke-linejoin="round"/>
<g fill="#b65fc0"><circle cx="182.6" cy="507.3" r="0.55"/><circle cx="191.3" cy="494.2" r="0.55"/><circle cx="196.6" cy="495.0" r="0.55"/><circle cx="193.1" cy="517.8" r="0.55"/><circle cx="207.1" cy="500.3" r="0.55"/><circle cx="187.8" cy="503.8" r="0.55"/><circle cx="200.1" cy="509.1" r="0.55"/><circle cx="191.3" cy="512.6" r="0.55"/><circle cx="188.2" cy="498.6" r="0.55"/><circle cx="195.7" cy="509.9" r="0.55"/><circle cx="203.8" cy="500.6" r="0.55"/><circle cx="191.7" cy="497.4" r="0.55"/><circle cx="190.3" cy="508.1" r="0.55"/><circle cx="191.1" cy="500.9" r="0.55"/><circle cx="202.1" cy="505.1" r="0.55"/><circle cx="190.6" cy="505.1" r="0.55"/></g>
<polyline points="190.4,502.0 215.8,497.7 201.8,519.6 225.5,509.9 196.6,517.8 210.6,504.7 205.3,498.5 217.6,512.6 214.3,499.7 215.8,516.3 202.4,510.7 196.5,514.4 201.6,506.0 208.0,514.8 193.4,514.3 217.5,516.6 192.8,505.7 211.0,517.8" fill="none" stroke="#5ab82c" stroke-width="0.6" stroke-linejoin="round"/>
<g fill="#5ab82c"><circle cx="190.4" cy="502.0" r="0.55"/><circle cx="215.8" cy="497.7" r="0.55"/><circle cx="201.8" cy="519.6" r="0.55"/><circle cx="225.5" cy="509.9" r="0.55"/><circle cx="196.6" cy="517.8" r="0.55"/><circle cx="210.6" cy="504.7" r="0.55"/><circle cx="205.3" cy="498.5" r="0.55"/><circle cx="217.6" cy="512.6" r="0.55"/><circle cx="214.3" cy="499.7" r="0.55"/><circle cx="215.8" cy="516.3" r="0.55"/><circle cx="202.4" cy="510.7" r="0.55"/><circle cx="196.5" cy="514.4" r="0.55"/><circle cx="201.6" cy="506.0" r="0.55"/><circle cx="208.0" cy="514.8" r="0.55"/><circle cx="193.4" cy="514.3" r="0.55"/><circle cx="217.5" cy="516.6" r="0.55"/><circle cx="192.8" cy="505.7" r="0.55"/><circle cx="211.0" cy="517.8" r="0.55"/></g>
<polyline points="203.6,508.2 224.6,505.6 230.7,513.4 224.6,539.7 213.2,527.4 229.0,518.7 221.1,511.7 217.6,530.1 222.9,507.3 225.5,530.1 213.7,534.4 218.7,513.0 213.1,508.3 229.5,520.7 215.3,510.4 219.9,531.0 216.5,516.8 206.1,519.3 220.8,529.7 207.9,517.3" fill="none" stroke="#2750b0" stroke-width="0.6" stroke-linejoin="round"/>
<g fill="#2750b0"><circle cx="203.6" cy="508.2" r="0.55"/><circle cx="224.6" cy="505.6" r="0.55"/><circle cx="230.7" cy="513.4" r="0.55"/><circle cx="224.6" cy="539.7" r="0.55"/><circle cx="213.2" cy="527.4" r="0.55"/><circle cx="229.0" cy="518.7" r="0.55"/><circle cx="221.1" cy="511.7" r="0.55"/><circle cx="217.6" cy="530.1" r="0.55"/><circle cx="222.9" cy="507.3" r="0.55"/><circle cx="225.5" cy="530.1" r="0.55"/><circle cx="213.7" cy="534.4" r="0.55"/><circle cx="218.7" cy="513.0" r="0.55"/><circle cx="213.1" cy="508.3" r="0.55"/><circle cx="229.5" cy="520.7" r="0.55"/><circle cx="215.3" cy="510.4" r="0.55"/><circle cx="219.9" cy="531.0" r="0.55"/><circle cx="216.5" cy="516.8" r="0.55"/><circle cx="206.1" cy="519.3" r="0.55"/><circle cx="220.8" cy="529.7" r="0.55"/><circle cx="207.9" cy="517.3" r="0.55"/></g>
<text x="52.00" y="627.80" font-size="9.9" fill="#000" font-weight="700" textLength="22.2" lengthAdjust="spacingAndGlyphs">Time</text>
<line x1="50.10" y1="637.90" x2="63.70" y2="637.90" stroke="#e5331f" stroke-width="2.4"/>
<circle cx="56.9" cy="637.9" r="1.9" fill="#e5331f"/>
<line x1="131.90" y1="637.90" x2="145.40" y2="637.90" stroke="#b65fc0" stroke-width="2.4"/>
<circle cx="138.7" cy="637.9" r="1.9" fill="#b65fc0"/>
<line x1="50.10" y1="651.60" x2="63.70" y2="651.60" stroke="#5ab82c" stroke-width="2.4"/>
<circle cx="56.9" cy="651.6" r="1.9" fill="#5ab82c"/>
<line x1="131.90" y1="651.60" x2="145.40" y2="651.60" stroke="#2750b0" stroke-width="2.4"/>
<circle cx="138.7" cy="651.6" r="1.9" fill="#2750b0"/>
<text x="114.60" y="641.80" font-size="9.9" fill="#000" text-anchor="end" textLength="35.0" lengthAdjust="spacingAndGlyphs">0 - 2.0 s</text>
<text x="199.20" y="641.80" font-size="9.9" fill="#000" text-anchor="end" textLength="44.4" lengthAdjust="spacingAndGlyphs">2.1 - 4.1 s</text>
<text x="114.60" y="655.50" font-size="9.9" fill="#000" text-anchor="end" textLength="43.4" lengthAdjust="spacingAndGlyphs">4.2 - 6.2 s</text>
<text x="199.20" y="655.50" font-size="9.9" fill="#000" text-anchor="end" textLength="44.4" lengthAdjust="spacingAndGlyphs">6.3 - 8.4 s</text>
<text x="279.80" y="431.50" font-size="18.3" fill="#000" font-weight="700" textLength="6.8" lengthAdjust="spacingAndGlyphs">f</text>
<text x="306.80" y="428.90" font-size="12.4" fill="#000" textLength="216.9" lengthAdjust="spacingAndGlyphs">Displacement of the speckle shown in e</text>
<path d="M314.1 434.3 H527.1 V569.8 H314.1 Z" fill="none" stroke="#a8a8a8" stroke-width="1.3"/>
<line x1="311.90" y1="545.30" x2="314.10" y2="545.30" stroke="#a8a8a8" stroke-width="1"/>
<text x="311.40" y="549.60" font-size="10.6" fill="#000" text-anchor="end">20</text>
<line x1="311.90" y1="520.80" x2="314.10" y2="520.80" stroke="#a8a8a8" stroke-width="1"/>
<text x="311.40" y="525.10" font-size="10.6" fill="#000" text-anchor="end">40</text>
<line x1="311.90" y1="496.30" x2="314.10" y2="496.30" stroke="#a8a8a8" stroke-width="1"/>
<text x="311.40" y="500.60" font-size="10.6" fill="#000" text-anchor="end">60</text>
<line x1="311.90" y1="471.80" x2="314.10" y2="471.80" stroke="#a8a8a8" stroke-width="1"/>
<text x="311.40" y="476.10" font-size="10.6" fill="#000" text-anchor="end">80</text>
<line x1="311.90" y1="447.30" x2="314.10" y2="447.30" stroke="#a8a8a8" stroke-width="1"/>
<text x="311.40" y="451.60" font-size="10.6" fill="#000" text-anchor="end">100</text>
<text x="311.50" y="575.60" font-size="10.6" fill="#000" text-anchor="end">0</text>
<text x="314.10" y="581.30" font-size="10.6" fill="#000" text-anchor="middle">0</text>
<text x="337.06" y="581.30" font-size="10.6" fill="#000" text-anchor="middle">1</text>
<text x="360.82" y="581.30" font-size="10.6" fill="#000" text-anchor="middle">2</text>
<text x="384.58" y="581.30" font-size="10.6" fill="#000" text-anchor="middle">3</text>
<text x="408.34" y="581.30" font-size="10.6" fill="#000" text-anchor="middle">4</text>
<text x="432.10" y="581.30" font-size="10.6" fill="#000" text-anchor="middle">5</text>
<text x="455.86" y="581.30" font-size="10.6" fill="#000" text-anchor="middle">6</text>
<text x="479.62" y="581.30" font-size="10.6" fill="#000" text-anchor="middle">7</text>
<text x="503.38" y="581.30" font-size="10.6" fill="#000" text-anchor="middle">8</text>
<text x="527.14" y="581.30" font-size="10.6" fill="#000" text-anchor="middle">9</text>
<text x="291.10" y="499.70" font-size="12.2" fill="#000" font-weight="700" text-anchor="middle" textLength="110.6" lengthAdjust="spacingAndGlyphs" transform="rotate(-90 291.10 499.70)">Displacement (nm)</text>
<text x="418.40" y="594.60" font-size="13.2" fill="#000" font-weight="700" text-anchor="middle" textLength="47.0" lengthAdjust="spacingAndGlyphs">Time (s)</text>
<g fill="#e0261a"><circle cx="316.0" cy="536.0" r="1.6"/><circle cx="318.6" cy="529.3" r="1.6"/><circle cx="321.0" cy="536.0" r="1.6"/><circle cx="323.3" cy="556.9" r="1.6"/><circle cx="325.7" cy="565.7" r="1.6"/><circle cx="328.1" cy="561.2" r="1.6"/><circle cx="330.5" cy="552.1" r="1.6"/><circle cx="332.9" cy="529.0" r="1.6"/><circle cx="335.2" cy="561.2" r="1.6"/><circle cx="337.6" cy="545.7" r="1.6"/><circle cx="340.0" cy="554.0" r="1.6"/><circle cx="342.4" cy="527.4" r="1.6"/><circle cx="344.8" cy="529.0" r="1.6"/><circle cx="347.1" cy="541.0" r="1.6"/><circle cx="349.5" cy="565.7" r="1.6"/><circle cx="351.9" cy="554.3" r="1.6"/><circle cx="354.3" cy="534.3" r="1.6"/><circle cx="356.7" cy="537.4" r="1.6"/><circle cx="359.0" cy="564.5" r="1.6"/><circle cx="361.4" cy="525.7" r="1.6"/><circle cx="363.8" cy="513.6" r="1.6"/><circle cx="366.2" cy="545.2" r="1.6"/><circle cx="368.6" cy="567.1" r="1.6"/><circle cx="371.0" cy="525.0" r="1.6"/><circle cx="373.3" cy="546.4" r="1.6"/><circle cx="375.7" cy="538.3" r="1.6"/><circle cx="378.1" cy="567.4" r="1.6"/><circle cx="380.5" cy="548.8" r="1.6"/><circle cx="382.9" cy="525.2" r="1.6"/><circle cx="385.2" cy="518.1" r="1.6"/><circle cx="387.6" cy="532.6" r="1.6"/><circle cx="390.0" cy="503.8" r="1.6"/><circle cx="392.4" cy="544.0" r="1.6"/><circle cx="394.8" cy="528.6" r="1.6"/><circle cx="397.1" cy="545.2" r="1.6"/><circle cx="399.5" cy="522.6" r="1.6"/><circle cx="401.9" cy="538.6" r="1.6"/><circle cx="404.3" cy="537.6" r="1.6"/><circle cx="406.7" cy="527.9" r="1.6"/><circle cx="409.0" cy="523.8" r="1.6"/><circle cx="411.4" cy="529.0" r="1.6"/><circle cx="413.8" cy="530.5" r="1.6"/><circle cx="415.7" cy="495.2" r="1.6"/><circle cx="418.1" cy="510.7" r="1.6"/><circle cx="420.5" cy="548.3" r="1.6"/><circle cx="422.9" cy="523.8" r="1.6"/><circle cx="425.2" cy="493.3" r="1.6"/><circle cx="427.6" cy="514.3" r="1.6"/><circle cx="430.0" cy="464.0" r="1.6"/><circle cx="432.4" cy="529.0" r="1.6"/><circle cx="434.8" cy="516.0" r="1.6"/><circle cx="437.1" cy="515.2" r="1.6"/><circle cx="439.5" cy="507.4" r="1.6"/><circle cx="441.9" cy="507.4" r="1.6"/><circle cx="444.3" cy="491.4" r="1.6"/><circle cx="446.7" cy="497.4" r="1.6"/><circle cx="449.0" cy="484.0" r="1.6"/><circle cx="451.4" cy="482.9" r="1.6"/><circle cx="453.8" cy="490.0" r="1.6"/><circle cx="456.2" cy="509.0" r="1.6"/><circle cx="458.6" cy="503.6" r="1.6"/><circle cx="461.0" cy="453.1" r="1.6"/><circle cx="463.3" cy="461.2" r="1.6"/><circle cx="465.7" cy="515.5" r="1.6"/><circle cx="468.1" cy="474.5" r="1.6"/><circle cx="470.5" cy="466.7" r="1.6"/><circle cx="472.9" cy="559.3" r="1.6"/><circle cx="475.2" cy="566.9" r="1.6"/><circle cx="477.6" cy="565.0" r="1.6"/><circle cx="480.0" cy="560.7" r="1.6"/><circle cx="482.4" cy="540.2" r="1.6"/><circle cx="484.8" cy="526.9" r="1.6"/><circle cx="487.1" cy="547.6" r="1.6"/><circle cx="489.5" cy="558.6" r="1.6"/><circle cx="491.9" cy="546.0" r="1.6"/><circle cx="494.3" cy="563.3" r="1.6"/><circle cx="496.7" cy="544.8" r="1.6"/><circle cx="499.0" cy="537.6" r="1.6"/><circle cx="501.4" cy="537.1" r="1.6"/><circle cx="503.8" cy="554.8" r="1.6"/><circle cx="506.2" cy="539.3" r="1.6"/><circle cx="508.6" cy="530.2" r="1.6"/><circle cx="511.0" cy="549.8" r="1.6"/><circle cx="513.3" cy="567.4" r="1.6"/><circle cx="515.7" cy="542.6" r="1.6"/></g>
<text x="250.00" y="596.20" font-size="18.3" fill="#000" font-weight="700" textLength="10.4" lengthAdjust="spacingAndGlyphs">g</text>
<text x="254.60" y="622.20" font-size="13.1" fill="#e03a2a" textLength="40.2" lengthAdjust="spacingAndGlyphs">F-actin</text>
<text x="340.00" y="612.60" font-size="13.1" fill="#d83c9c" textLength="28.4" lengthAdjust="spacingAndGlyphs">Flow</text>
<text x="255.20" y="691.70" font-size="13.3" fill="#3584c6" textLength="57.5" lengthAdjust="spacingAndGlyphs">Substrate</text>
<text x="288.80" y="707.00" font-size="15.0" fill="#2e2a8e" font-weight="700" textLength="73.0" lengthAdjust="spacingAndGlyphs">Stationary</text>
<text x="451.80" y="710.20" font-size="15.0" fill="#2e2a8e" font-weight="700" textLength="46.0" lengthAdjust="spacingAndGlyphs">Clutch</text>
<text x="601.90" y="710.20" font-size="15.0" fill="#2e2a8e" font-weight="700" textLength="54.7" lengthAdjust="spacingAndGlyphs">Flowing</text>
<line x1="271.10" y1="627.30" x2="376.60" y2="627.30" stroke="#e0281e" stroke-width="3.0"/>
<line x1="271.10" y1="677.60" x2="376.60" y2="677.60" stroke="#4a88c6" stroke-width="3.2"/>
<line x1="424.20" y1="627.30" x2="530.10" y2="627.30" stroke="#e0281e" stroke-width="3.0"/>
<line x1="424.20" y1="677.60" x2="530.10" y2="677.60" stroke="#4a88c6" stroke-width="3.2"/>
<line x1="575.20" y1="627.30" x2="680.30" y2="627.30" stroke="#e0281e" stroke-width="3.0"/>
<line x1="575.20" y1="677.60" x2="680.30" y2="677.60" stroke="#4a88c6" stroke-width="3.2"/>
<line x1="340.00" y1="617.70" x2="370.20" y2="617.70" stroke="#d83c9c" stroke-width="1.3"/>
<path d="M364.7 615.1 L370.2 617.7 L364.7 620.3" fill="none" stroke="#d83c9c" stroke-width="1.3"/>
<line x1="479.80" y1="619.10" x2="510.20" y2="619.10" stroke="#d83c9c" stroke-width="1.3"/>
<path d="M504.7 616.5 L510.2 619.1 L504.7 621.7" fill="none" stroke="#d83c9c" stroke-width="1.3"/>
<line x1="643.00" y1="617.20" x2="673.30" y2="617.20" stroke="#d83c9c" stroke-width="1.3"/>
<path d="M667.8 614.6 L673.3 617.2 L667.8 619.8" fill="none" stroke="#d83c9c" stroke-width="1.3"/>
<text x="266.70" y="655.80" font-size="13.3" fill="#000" textLength="27.6" lengthAdjust="spacingAndGlyphs">Talin</text>
<text x="434.70" y="655.60" font-size="13.3" fill="#000" textLength="27.6" lengthAdjust="spacingAndGlyphs">Talin</text>
<text x="595.10" y="647.60" font-size="13.3" fill="#000" textLength="27.6" lengthAdjust="spacingAndGlyphs">Talin</text>
<text x="293.00" y="673.90" font-size="11.6" fill="#000" font-weight="700" textLength="7.6" lengthAdjust="spacingAndGlyphs">N</text>
<text x="436.40" y="674.30" font-size="11.6" fill="#000" font-weight="700" textLength="7.6" lengthAdjust="spacingAndGlyphs">N</text>
<text x="610.20" y="667.50" font-size="11.6" fill="#000" font-weight="700" textLength="7.6" lengthAdjust="spacingAndGlyphs">N</text>
<text x="330.70" y="643.50" font-size="11.6" fill="#000" font-weight="700" textLength="7.9" lengthAdjust="spacingAndGlyphs">C</text>
<text x="496.30" y="639.30" font-size="11.6" fill="#000" font-weight="700" textLength="7.9" lengthAdjust="spacingAndGlyphs">C</text>
<text x="656.70" y="638.90" font-size="11.6" fill="#000" font-weight="700" textLength="7.9" lengthAdjust="spacingAndGlyphs">C</text>
<ellipse cx="323.7" cy="638.7" rx="3.7" ry="6.0" fill="#e87a22"/>
<ellipse cx="309.2" cy="670.4" rx="3.8" ry="5.8" fill="#1d8c3c"/>
<line x1="457.4" y1="668.5" x2="485.5" y2="638.9" stroke="#111" stroke-width="1.5"/>
<ellipse cx="489.0" cy="634.2" rx="3.6" ry="6.2" transform="rotate(40 489.0 634.2)" fill="#e87a22"/>
<ellipse cx="452.8" cy="670.8" rx="3.7" ry="6.2" transform="rotate(50 452.8 670.8)" fill="#1d8c3c"/>
<ellipse cx="649.6" cy="633.8" rx="3.8" ry="6.0" transform="rotate(25 649.6 633.8)" fill="#e87a22"/>
<ellipse cx="627.4" cy="660.9" rx="3.8" ry="6.0" transform="rotate(30 627.4 660.9)" fill="#1d8c3c"/>
<path d="M309.2 665 Q307 663 306.6 658.8 L315.3 660.6 L306.6 655.1 L316.2 657.1 L307.2 650.3 L317.1 652.9 C318.2 651 317 649.5 318.8 648.3 C320.2 647.4 321.5 647.6 322.6 645.0" fill="none" stroke="#111" stroke-width="1.45" stroke-linejoin="miter" stroke-linecap="round"/>
<path d="M629.9 655.9 Q628.3 653 628.1 649.5 L636.5 653 L629.2 645.6 L638.2 649.5 L630.8 641 L639.5 645.6 C640.3 644.5 640 643 641.5 642.2 C643 641.4 644.5 641.8 646.9 638.8" fill="none" stroke="#111" stroke-width="1.45" stroke-linejoin="miter" stroke-linecap="round"/>
<text x="390.6" y="624.9" font-size="11.8" fill="#111"><tspan font-style="italic">k</tspan><tspan font-size="7.5" dy="4.2">a</tspan><tspan dy="-4.2" dx="3.0">=</tspan></text>
<text x="380.4" y="639.8" font-size="9.8" fill="#111"><tspan textLength="38.0" lengthAdjust="spacingAndGlyphs">0.0548 s</tspan><tspan font-size="6.4" dy="-3.6">-1</tspan></text>
<text x="390.6" y="676.0" font-size="11.8" fill="#111"><tspan font-style="italic">k</tspan><tspan font-size="7.5" dy="4.2">b</tspan><tspan dy="-4.2" dx="3.0">=</tspan></text>
<text x="382.9" y="691.8" font-size="9.8" fill="#111"><tspan textLength="32.6" lengthAdjust="spacingAndGlyphs">0.374 s</tspan><tspan font-size="6.4" dy="-3.6">-1</tspan></text>
<text x="541.5" y="624.6" font-size="11.8" fill="#111"><tspan font-style="italic">k</tspan><tspan font-size="7.5" dy="4.2">c</tspan><tspan dy="-4.2" dx="3.0">=</tspan></text>
<text x="534.3" y="639.8" font-size="9.8" fill="#111"><tspan textLength="33.0" lengthAdjust="spacingAndGlyphs">0.680 s</tspan><tspan font-size="6.4" dy="-3.6">-1</tspan></text>
<text x="541.5" y="674.6" font-size="11.8" fill="#111"><tspan font-style="italic">k</tspan><tspan font-size="7.5" dy="4.2">d</tspan><tspan dy="-4.2" dx="3.0">=</tspan></text>
<text x="530.8" y="691.8" font-size="9.8" fill="#111"><tspan textLength="37.9" lengthAdjust="spacingAndGlyphs">0.0315 s</tspan><tspan font-size="6.4" dy="-3.6">-1</tspan></text>
<line x1="385.50" y1="649.90" x2="410.30" y2="649.90" stroke="#111" stroke-width="1.6"/>
<path d="M415.3 649.9 L407.3 647.6 L407.3 652.2 Z" fill="#111"/>
<line x1="391.10" y1="658.80" x2="415.90" y2="658.80" stroke="#111" stroke-width="1.6"/>
<path d="M386.1 658.8 L394.1 656.5 L394.1 661.1 Z" fill="#111"/>
<line x1="537.80" y1="649.90" x2="562.70" y2="649.90" stroke="#111" stroke-width="1.6"/>
<path d="M567.7 649.9 L559.7 647.6 L559.7 652.2 Z" fill="#111"/>
<line x1="542.80" y1="658.50" x2="568.20" y2="658.50" stroke="#111" stroke-width="1.6"/>
<path d="M537.8 658.5 L545.8 656.2 L545.8 660.8 Z" fill="#111"/>
</svg>
</body></html>
